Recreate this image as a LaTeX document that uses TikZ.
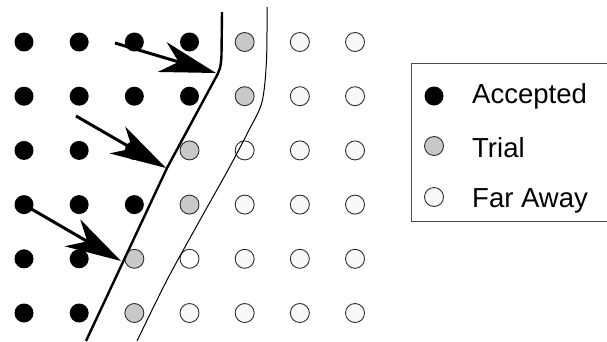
\documentclass[tikz,border=0pt]{standalone}
\usepackage{fontspec}
\setmainfont{Liberation Sans}
\usetikzlibrary{arrows.meta}
\definecolor{trialgray}{RGB}{200,200,200}
\definecolor{farfill}{RGB}{248,248,248}
\definecolor{rim}{RGB}{45,45,45}
\tikzset{
  dotbase/.style={circle,inner sep=0pt,minimum size=19pt},
  acc/.style={dotbase,fill=black},
  tri/.style={dotbase,draw=rim,line width=0.9pt,fill=trialgray},
  far/.style={dotbase,draw=rim,line width=0.9pt,fill=farfill},
  farw/.style={dotbase,draw=rim,line width=0.9pt,fill=white},
  front/.style={line width=2.4pt,line join=round},
  back/.style={line width=1pt},
  bigarrow/.style={line width=3pt,-{Stealth[length=56pt,width=31pt,inset=17pt]}},
  legtext/.style={anchor=base west,inner sep=0pt,font=\fontsize{27.5}{33}\selectfont},
  legbox/.style={draw=black!70,line width=1pt}
}
\begin{document}
\begin{tikzpicture}[x=1pt,y=-1pt]
\useasboundingbox (0,0) rectangle (607,341);
% grid of points
\foreach \r/\types in {1/{acc,acc,acc,acc,tri,far,far},
                       2/{acc,acc,acc,acc,tri,far,far},
                       3/{acc,acc,acc,tri,farw,far,far},
                       4/{acc,acc,acc,tri,far,far,far},
                       5/{acc,acc,tri,farw,far,far,far},
                       6/{acc,acc,tri,far,far,far,far}}{
  \foreach \t [count=\c] in \types {
    \node[\t] (n-\r-\c) at ({24+(\c-1)*55.17},{42+(\r-1)*54.2}) {};
  }
}
% fronts
\draw[back] plot[smooth,tension=0.5] coordinates {(267,7) (266.5,60) (262,102) (248,132) (228,170) (200,220) (167,280) (137,341)};
\draw[front] (222,12) -- (221.5,55) .. controls (221,68) and (219,72) .. (215,79) -- (167,168) -- (86,341);
% arrows
\coordinate (a1s) at (115,43);
\coordinate (a1e) at (216,73);
\coordinate (a2s) at (76,116);
\coordinate (a2e) at (166,168);
\coordinate (a3s) at (28,207);
\coordinate (a3e) at (121,261);
\draw[bigarrow] (a1s) -- (a1e);
\draw[bigarrow] (a2s) -- (a2e);
\draw[bigarrow] (a3s) -- (a3e);
% legend
\draw[legbox] (608,63) -- (411,63) -- (411,221) -- (608,221);
\node[acc] (lacc) at (434,96) {};
\node[tri] (ltri) at (434,146) {};
\node[far] (lfar) at (434,197) {};
\node[legtext] (tacc) at (472,103) {Accepted};
\node[legtext] (ttri) at (472,157) {Trial};
\node[legtext] (tfar) at (472,207) {Far Away};
\end{tikzpicture}
\end{document}
